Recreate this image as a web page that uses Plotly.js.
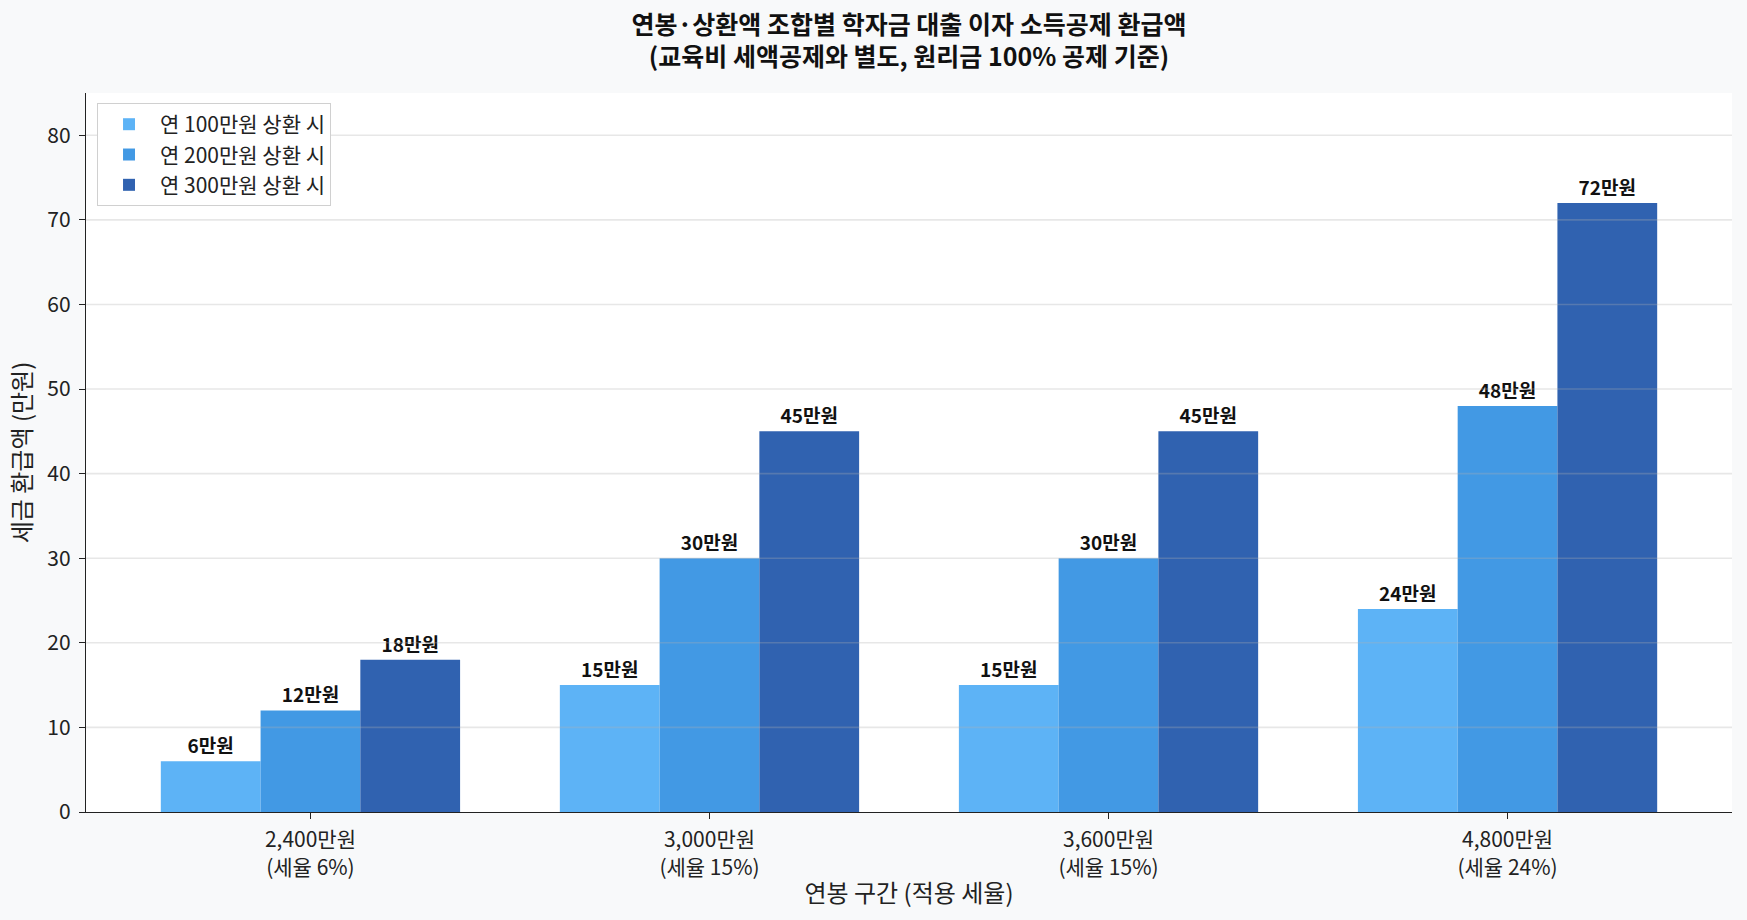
<!DOCTYPE html>
<html>
<head>
<meta charset="utf-8">
<script src="https://cdn.plot.ly/plotly-3.0.1.min.js"></script>
<style>
  html, body { margin: 0; padding: 0; background: #f8f9fa; }
  #chart { width: 1747px; height: 920px; }
</style>
</head>
<body>
<div id="chart"></div>
<script>
// Salary brackets (applied tax rate) on the x axis
const categories = [
  '2,400만원<br>(세율 6%)',
  '3,000만원<br>(세율 15%)',
  '3,600만원<br>(세율 15%)',
  '4,800만원<br>(세율 24%)'
];
// Refund amounts (만원) for each yearly repayment amount
const repay100 = [6, 15, 15, 24];
const repay200 = [12, 30, 30, 48];
const repay300 = [18, 45, 45, 72];
const seriesNames = ['연 100만원 상환 시', '연 200만원 상환 시', '연 300만원 상환 시'];
const seriesColors = ['#5db3f6', '#4299e4', '#3062b0'];
const yTicks = [0, 10, 20, 30, 40, 50, 60, 70, 80];

const FONT = '"Noto Sans CJK KR", "Noto Sans", sans-serif';
const INK = '#222222';

const seriesValues = [repay100, repay200, repay300];
const traces = seriesValues.map((vals, i) => ({
  type: 'bar',
  name: seriesNames[i],
  x: categories,
  y: vals,
  marker: { color: seriesColors[i], line: { width: 0 } },
  texttemplate: '%{y}만원',
  textposition: 'outside',
  cliponaxis: false,
  textfont: { family: FONT, size: 19, color: '#111111', weight: 700 },
  hoverinfo: 'x+y'
}));

// Horizontal gridlines drawn over the bars, one per y tick
const gridShapes = yTicks.filter(v => v > 0).map(v => ({
  type: 'line', xref: 'paper', yref: 'y',
  x0: 0, x1: 1, y0: v, y1: v,
  line: { color: 'rgba(176,176,176,0.3)', width: 1.6 },
  layer: 'above'
}));

const layout = {
  width: 1747,
  height: 920,
  paper_bgcolor: '#f8f9fa',
  plot_bgcolor: '#ffffff',
  font: { family: FONT, size: 21, color: INK },
  margin: { l: 86, r: 15, t: 93, b: 108 },
  title: {
    text: '연봉·상환액 조합별 학자금 대출 이자 소득공제 환급액<br>(교육비 세액공제와 별도, 원리금 100% 공제 기준)',
    font: { family: FONT, size: 25, color: '#111111', weight: 700 },
    x: 0.5203, xanchor: 'center',
    yref: 'container', y: 0.9635, yanchor: 'top'
  },
  barmode: 'group',
  bargap: 0.25,
  bargroupgap: 0,
  showlegend: true,
  legend: {
    x: 0.0067, y: 0.986, xanchor: 'left', yanchor: 'top',
    bgcolor: '#ffffff',
    bordercolor: '#d0d0d0',
    borderwidth: 1,
    itemwidth: 52,
    font: { family: FONT, size: 21, color: INK },
    traceorder: 'normal'
  },
  xaxis: {
    type: 'category',
    range: [-0.5625, 3.5625],
    showgrid: false,
    zeroline: false,
    showline: true,
    linecolor: INK,
    linewidth: 1.4,
    ticks: 'outside',
    ticklen: 6,
    tickwidth: 1.4,
    tickcolor: INK,
    ticklabelstandoff: 3,
    tickfont: { family: FONT, size: 21, color: INK },
    title: {
      text: '연봉 구간 (적용 세율)',
      font: { family: FONT, size: 24, color: INK },
      standoff: 5
    },
    automargin: false
  },
  yaxis: {
    range: [0, 85],
    tickmode: 'array',
    tickvals: yTicks,
    ticktext: yTicks.map(String),
    showgrid: false,
    zeroline: false,
    showline: true,
    linecolor: INK,
    linewidth: 1.4,
    ticks: 'outside',
    ticklen: 6,
    tickwidth: 1.4,
    tickcolor: INK,
    ticklabelstandoff: 4,
    tickfont: { family: FONT, size: 21, color: INK },
    title: {
      text: '세금 환급액 (만원)',
      font: { family: FONT, size: 24, color: INK },
      standoff: 8
    },
    automargin: false
  },
  shapes: gridShapes
};

Plotly.newPlot('chart', traces, layout, { displayModeBar: false, responsive: false });
</script>
</body>
</html>
